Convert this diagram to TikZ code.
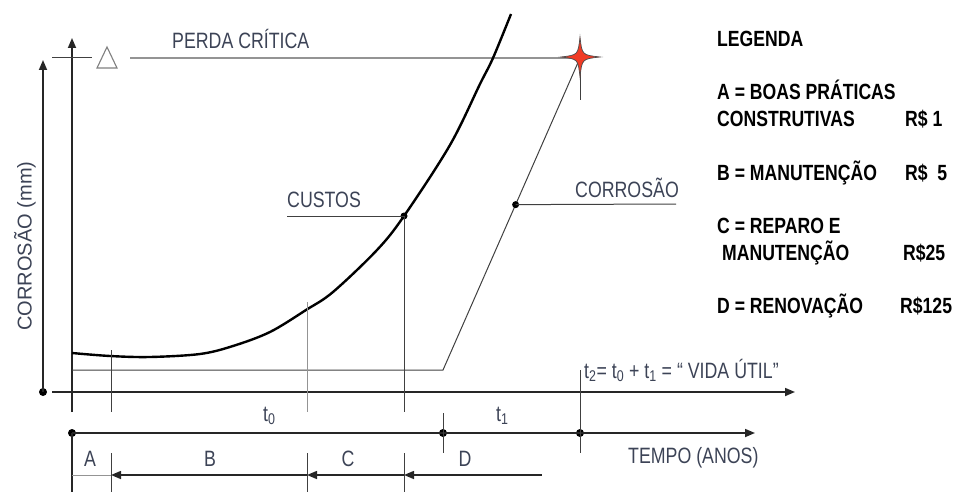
\documentclass[tikz,border=0pt]{standalone}
\usepackage{fontspec}
\setmainfont{Liberation Sans}[FakeStretch=0.8]
\newfontfamily\axisfont{Liberation Sans}
\usepackage{xcolor}
\usepackage{tikz}
\usetikzlibrary{arrows.meta,positioning,calc}
\definecolor{clrLabel}{HTML}{3C4356}
\definecolor{clrStar}{HTML}{F03A24}
\tikzset{
  axis/.style={line width=1.7pt, black!85},
  costline/.style={line width=2.4pt, black},
  thin/.style={line width=1pt, black!75},
  faint/.style={line width=1pt, black!42},
  tip/.style={-{Triangle[length=10pt,width=8pt]}},
  backtip/.style={{Triangle[length=10pt,width=8pt]}-},
  dot/.style={circle, fill=black, inner sep=0pt, minimum size=8pt},
  lbl/.style={font=\fontsize{22.2}{25}\selectfont, text=clrLabel,
    inner sep=0pt, anchor=base west},
  leg/.style={font=\fontsize{22}{25}\selectfont\bfseries, text=black,
    inner sep=0pt, anchor=base west},
}

\begin{document}
\begin{tikzpicture}[x=1pt, y=-1pt]
\useasboundingbox (0,0) rectangle (953,492);

\def\xO{43}    % aeussere Achse
\def\xA{72}    % innere Achse
\def\yP{58}    % perda critica
\def\yK{370}   % Sockel der Korrosion
\def\yT{392}   % Zeitachse
\def\yU{433}   % untere Zeitachse
\def\yD{475}   % Pfeile A--D

% Achsen
\node[dot] (o1) at (\xO, \yT) {};
\draw[axis, tip] (o1.center) -- (\xO, 60);
\draw[axis, tip] (\xA, 412) -- (\xA, 38);
\draw[axis, tip] (52, \yT) -- (795, \yT);
\node[dot] (u0) at (\xA, \yU) {};
\node[dot] (u1) at (443, \yU) {};
\node[dot] (u2) at (580, \yU) {};
\draw[axis, tip] (u0.center) -- (755, \yU);
\draw[axis] (u0.center) -- (\xA, 492);

% perda critica
\coordinate (star) at (580, \yP);
\draw[thin] (52, \yP) -- (92, \yP);
\draw[black!50, line width=1.1pt, line join=miter] (97,68) -- (117,68) -- (107,47) -- cycle;
\draw[faint, line width=1.3pt] (130, \yP) -- (star);

% Kostenkurve
\draw[costline] plot[smooth, tension=0.55] coordinates {(72,353) (110,356) (150,357)
  (200,354) (233,346) (270,332) (306,310) (333,292) (377,250) (404,216)
  (450,145) (480,84) (493,58) (511,14)};
\node[dot, minimum size=7pt] (cst) at (404, 216) {};
\draw[thin] (287, 216) -- (cst.center);

% Korrosion
\coordinate (k0) at (443, \yK);
\draw[thin] (\xA, \yK) -- (k0) -- (star);
\draw[thin] (star) -- (580, 100);
\node[dot, minimum size=7pt] (cor) at ($(k0)!0.53!(star)$) {};
\draw[thin] (cor.center) -- (676, 204);
\filldraw[fill=clrStar, draw=black!70, line width=0.7pt]
  (580,37) .. controls (582,55) .. (600,57) .. controls (582,59) .. (580,77)
  .. controls (578,59) .. (561,57) .. controls (578,55) .. (580,37) -- cycle;

% senkrechte Marken
\draw[thin] (111, 350) -- (111, 412);
\draw[faint] (307, 302) -- (307, 412);
\draw[thin] (cst.center) -- (404, 412);
\draw[thin] (443, 413) -- (443, 453);
\draw[thin] (580, 370) -- (580, 453);
\foreach \xm in {111, 307, 404}{
  \draw[thin] (\xm, 453) -- (\xm, 492);
}

% Pfeile A--D
\draw[faint] (\xA, \yD) -- (111, \yD);
\foreach \xa/\xb in {111/307, 307/404, 404/542}{
  \draw[axis, line width=1.5pt, backtip] (\xa, \yD) -- (\xb, \yD);
}
\foreach \nm/\xc/\txt in {lA/90/A, lB/210/B, lC/348/C, lD/465/D}{
  \node[lbl, anchor=base] (\nm) at (\xc, 466) {\txt};
}

% Beschriftungen
\node[lbl] (lPerda) at (172, 49) {PERDA CRÍTICA};
\node[lbl] (lCustos) at (287, 207) {CUSTOS};
\node[lbl] (lCorr) at (575, 197) {CORROSÃO};
\node[lbl] (lT0) at (263, 421) {t\textsubscript{0}};
\node[lbl] (lT1) at (496, 421) {t\textsubscript{1}};
\node[lbl] (lTempo) at (628, 463) {TEMPO (ANOS)};
\node[lbl] (lVida) at (584, 378)
  {t\textsubscript{2}= t\textsubscript{0} + t\textsubscript{1} = “ VIDA ÚTIL”};
\node[font=\axisfont\fontsize{20}{22}\selectfont, text=clrLabel, rotate=90,
  inner sep=0pt] (lY) at (25, 246) {CORROSÃO (mm)};

% Legende
\node[leg] (legT) at (717, 47) {LEGENDA};
\node[leg] (legA) at (717, 100) {A = BOAS PRÁTICAS};
\node[leg] (legA2) at (717, 127) {CONSTRUTIVAS};
\node[leg] (legB) at (717, 180) {B = MANUTENÇÃO};
\node[leg] (legC) at (717, 233) {C = REPARO E};
\node[leg] (legC2) at (722, 260) {MANUTENÇÃO};
\node[leg] (legD) at (717, 313) {D = RENOVAÇÃO};
\foreach \nm/\xp/\yp/\txt in {pA/905/127/R\$ 1, pB/905/180/R\$\ \ 5,
    pC/903/260/R\$25, pD/900/313/R\$125}{
  \node[leg] (\nm) at (\xp, \yp) {\txt};
}

\end{tikzpicture}
\end{document}
